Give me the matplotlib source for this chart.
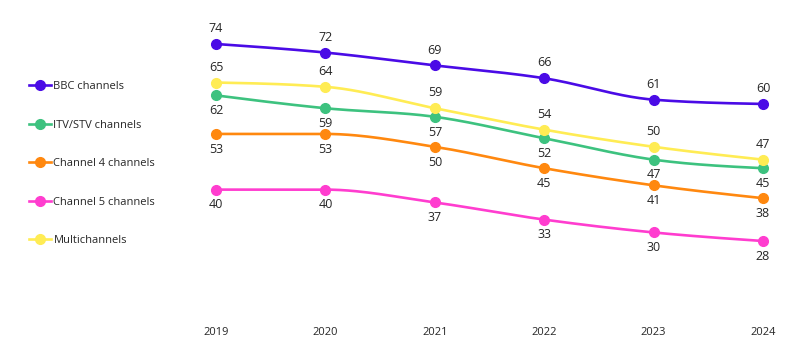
#line chart of channel reach 2019-2024, smoothed lines with point labels
import numpy as np
from matplotlib import pyplot as plt
from matplotlib.lines import Line2D

plt.rcParams['font.family'] = ['Open Sans', 'DejaVu Sans']

years = [2019, 2020, 2021, 2022, 2023, 2024]
bbc = [74, 72, 69, 66, 61, 60]
itv = [62, 59, 57, 52, 47, 45]
ch4 = [53, 53, 50, 45, 41, 38]
ch5 = [40, 40, 37, 33, 30, 28]
multi = [65, 64, 59, 54, 50, 47]

names = ["BBC channels", "ITV/STV channels", "Channel 4 channels",
         "Channel 5 channels", "Multichannels"]
series = [bbc, itv, ch4, ch5, multi]
colors = ["#4A0BE6", "#3DC27F", "#FF880F", "#FF3DCF", "#FFEC54"]
# label above (+1) or below (-1) the point
side = [1, -1, -1, -1, 1]


#monotone cubic curve (d3 monotoneX style) through the points, only for drawing
def smooth(x, y, n=40):
	x = np.asarray(x, float)
	y = np.asarray(y, float)
	h = np.diff(x)
	d = np.diff(y) / h
	m = np.zeros(len(x))
	for i in range(1, len(x) - 1):
		p = (d[i-1]*h[i] + d[i]*h[i-1]) / (h[i-1] + h[i])
		m[i] = (np.sign(d[i-1]) + np.sign(d[i])) * min(abs(d[i-1]), abs(d[i]), 0.5*abs(p))
	m[0] = (3*d[0] - m[1]) / 2
	m[-1] = (3*d[-1] - m[-2]) / 2
	xs = []
	ys = []
	for i in range(len(x) - 1):
		t = np.linspace(0, 1, n)
		h00 = 2*t**3 - 3*t**2 + 1
		h10 = t**3 - 2*t**2 + t
		h01 = -2*t**3 + 3*t**2
		h11 = t**3 - t**2
		xs.extend(x[i] + t*h[i])
		ys.extend(h00*y[i] + h10*h[i]*m[i] + h01*y[i+1] + h11*h[i]*m[i+1])
	return xs, ys


fig = plt.figure(figsize=(8, 3.55), dpi=100)
ax = fig.add_axes([190/800, 35/355, 600/800, 300/355])

# draw in an order so the yellow line sits on top of the green one
for k in [3, 2, 1, 4, 0]:
	vals = series[k]
	sx, sy = smooth(years, vals)
	ax.plot(sx, sy, color=colors[k], lw=1.9, solid_capstyle='round')
	ax.plot(years, vals, 'o', color=colors[k], ms=7)
	for x, v in zip(years, vals):
		ax.annotate(str(v), (x, v), xytext=(0, 11*side[k]), textcoords='offset points',
			ha='center', va='center', fontsize=9, color='#262626')

ax.set_xlim(2018.762, 2024.247)
ax.set_ylim(9.56, 79.6)
ax.set_xticks(years)
ax.set_xticklabels([str(y) for y in years], fontsize=8, color='#262626')
ax.tick_params(axis='x', length=0, pad=5)
ax.set_yticks([])
for s in ax.spines.values():
	s.set_visible(False)

handles = [Line2D([0], [0], color=c, lw=1.9, marker='o', ms=7) for c in colors]
fig.legend(handles, names, loc='upper left', bbox_to_anchor=(19/800, 1 - 71/355),
	frameon=False, fontsize=8, handlelength=2.0, handletextpad=0.2,
	labelspacing=2.48, labelcolor='#262626')

plt.savefig("out.png", dpi=100)
